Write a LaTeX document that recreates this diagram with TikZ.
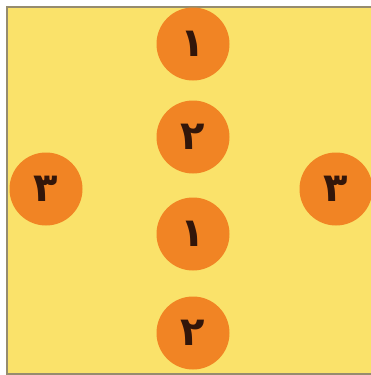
\documentclass[tikz,border=0pt]{standalone}
\usepackage{fontspec}
\TeXXeTstate=1
\newfontfamily\arabicfont[Script=Arabic]{DejaVu Sans}
\definecolor{bgyellow}{RGB}{250,226,106}
\definecolor{dotorange}{RGB}{241,132,36}
\definecolor{digitdark}{RGB}{50,22,10}
\definecolor{edgegray}{RGB}{150,140,110}
\tikzset{
  numdot/.style={circle,fill=dotorange,draw=none,minimum size=73pt,inner sep=0pt,
    text=digitdark,font=\arabicfont\bfseries\fontsize{40}{40}\selectfont},
}
\begin{document}
\begin{tikzpicture}[x=1pt,y=-1pt]
\useasboundingbox (0,0) rectangle (371,375);
\fill[white] (0,0) rectangle (371,375);
\fill[bgyellow] (7,7) rectangle (371,374);
\draw[edgegray,line width=1.2pt] (371,7) -- (7,7) -- (7,374) -- (371,374);
\node[numdot] (a) at (193,44) {\beginR ۱\endR};
\node[numdot] (b) at (193,137) {\beginR ۲\endR};
\node[numdot] (c) at (193,234) {\beginR ۱\endR};
\node[numdot] (d) at (193,333) {\beginR ۲\endR};
\node[numdot] (e) at (46,189) {\beginR ۳\endR};
\node[numdot] (f) at (336,189) {\beginR ۳\endR};
\end{tikzpicture}
\end{document}
